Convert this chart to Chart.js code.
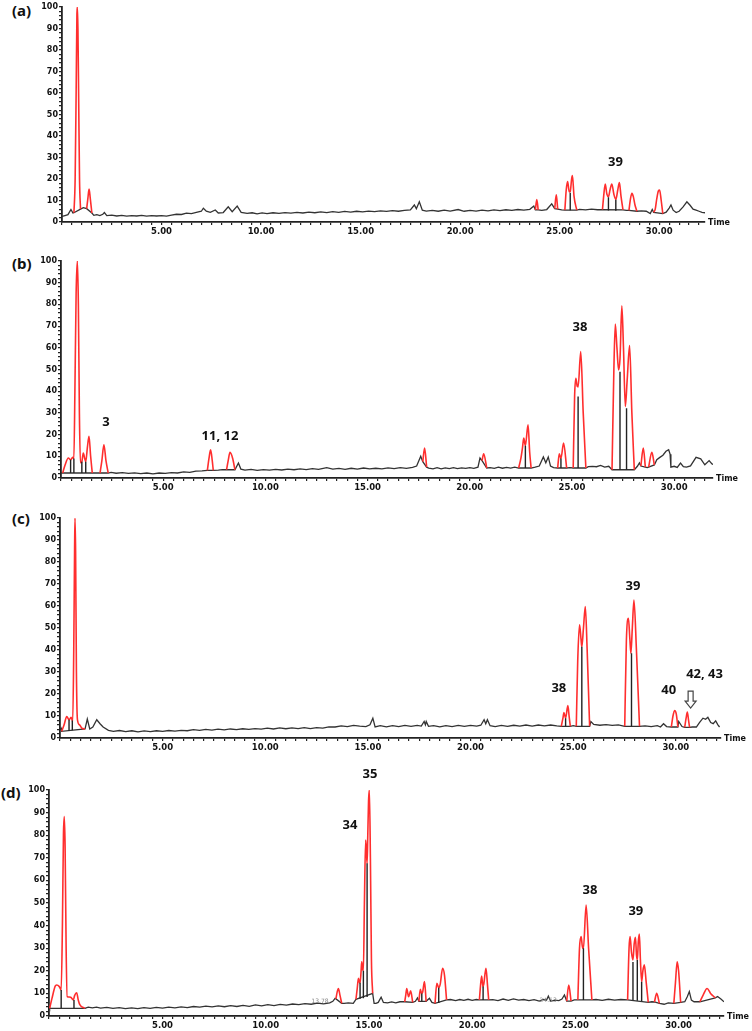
<!DOCTYPE html>
<html>
<head>
<meta charset="utf-8">
<script src="https://cdn.jsdelivr.net/npm/chart.js@4.4.1/dist/chart.umd.min.js"></script>
<style>
  html, body { margin: 0; padding: 0; background: #fff; }
  body { width: 752px; height: 1031px; position: relative; overflow: hidden; }
  .panel { position: absolute; left: 0; width: 752px; }
  .tag { position: absolute; font: 700 15px "Noto Sans", sans-serif; line-height: 15px; color: #111; }
</style>
</head>
<body>
<div class="tag" style="left:12px;top:3px">(a)</div>
<div class="tag" style="left:12px;top:256px">(b)</div>
<div class="tag" style="left:12px;top:511px">(c)</div>
<div class="tag" style="left:1px;top:785px">(d)</div>
<div class="panel" id="pa"><canvas id="ca"></canvas></div>
<div class="panel" id="pb"><canvas id="cb"></canvas></div>
<div class="panel" id="pc"><canvas id="cc"></canvas></div>
<div class="panel" id="pd"><canvas id="cd"></canvas></div>
<script>
// ---------- data: [time (min), relative abundance (%)] ----------

// (a)
const traceA = [[0,2.6],[0.15,3.0],[0.3,3.4],[0.45,5.8],[0.55,4.2],[0.6,4.3],[0.93,6.0],[1.07,6.7],[1.24,6.2],[1.5,4.2],[1.6,3.1],[1.75,3.4],[1.9,3.0],[2.05,3.6],[2.13,4.4],[2.25,3.0],[2.5,3.2],[2.75,2.8],[3.0,3.1],[3.25,2.7],[3.5,3.0],[3.75,2.8],[4.0,3.1],[4.25,2.7],[4.5,3.0],[4.75,2.8],[5.0,3.0],[5.25,2.7],[5.5,3.2],[5.75,3.6],[6.0,3.5],[6.25,4.1],[6.5,3.9],[6.75,4.5],[7.0,5.0],[7.1,6.4],[7.25,5.0],[7.45,4.5],[7.7,5.6],[7.85,4.2],[8.1,4.4],[8.35,7.1],[8.55,4.8],[8.8,7.4],[9.0,4.5],[9.3,4.0],[9.55,4.3],[9.8,3.8],[10.05,4.2],[10.3,3.9],[10.6,4.3],[10.9,4.0],[11.2,4.4],[11.5,4.1],[11.8,4.5],[12.1,4.2],[12.4,4.6],[12.7,4.3],[13.0,4.7],[13.3,4.4],[13.6,4.8],[13.9,4.5],[14.2,4.9],[14.5,4.6],[14.8,5.0],[15.1,4.7],[15.4,5.1],[15.7,4.8],[16.0,5.2],[16.3,4.9],[16.6,5.3],[16.9,5.0],[17.2,5.4],[17.5,5.6],[17.7,7.9],[17.8,6.2],[17.95,9.4],[18.1,5.5],[18.3,5.1],[18.6,5.4],[18.9,5.0],[19.2,5.5],[19.5,5.1],[19.9,5.8],[20.2,5.0],[20.5,5.4],[20.8,5.1],[21.1,5.5],[21.4,5.2],[21.7,5.6],[22.0,5.3],[22.3,5.7],[22.6,5.4],[22.9,5.8],[23.2,5.5],[23.5,5.9],[23.7,7.4],[23.78,5.6],[23.92,5.6],[24.1,5.4],[24.35,5.8],[24.6,8.4],[24.75,6.2],[24.9,6.0],[25.1,5.6],[25.26,5.5],[25.86,5.5],[26.0,5.9],[26.3,5.6],[26.6,6.0],[26.9,5.7],[27.15,5.8],[28.18,5.6],[28.35,5.4],[28.48,5.4],[28.88,5.0],[29.1,5.2],[29.35,5.0],[29.55,3.9],[29.65,5.8],[29.72,4.5],[30.18,3.9],[30.35,4.6],[30.5,6.5],[30.59,7.9],[30.7,5.5],[30.85,4.4],[31.0,5.0],[31.2,7.0],[31.39,9.4],[31.55,7.8],[31.7,6.0],[31.85,5.5],[32.0,5.0],[32.15,4.5],[32.3,4.3]];
const peaksA = [
  [[0.6,4.3],[0.66,20],[0.71,60],[0.75,97],[0.77,100],[0.8,90],[0.84,55],[0.88,20],[0.93,6.0]],
  [[1.24,6.2],[1.3,11],[1.36,15.3],[1.42,11],[1.5,4.2]],
  [[23.78,5.6],[23.85,10.5],[23.92,5.6]],
  [[24.75,6.2],[24.83,12.6],[24.9,6.0]],
  [[25.26,5.5],[25.33,15],[25.4,18.8],[25.48,14],[25.53,14.2],[25.6,20],[25.64,21.6],[25.72,12],[25.86,5.5]],
  [[27.15,5.8],[27.22,13],[27.29,17.7],[27.37,13],[27.45,11.8],[27.53,15],[27.62,17.7],[27.72,13],[27.82,10.5],[27.92,15],[28.0,18.3],[28.08,12],[28.18,5.6]],
  [[28.48,5.4],[28.56,11],[28.63,13.3],[28.7,11.8],[28.78,8],[28.88,5.0]],
  [[29.72,4.5],[29.8,6],[29.88,11],[29.96,14.5],[30.02,14.9],[30.1,10],[30.18,3.9]]
];
const dropsA = [[25.53,5.5,13.6],[27.45,5.4,11.5],[27.82,5.2,10.3]];
const notesA = [['39',27.8,27.6]];

// (b)
const traceB = [[0,2.3],[0.08,2.3],[1.53,2.3],[1.7,2.3],[1.91,2.3],[2.31,2.3],[2.45,2.6],[2.7,2.2],[3.0,2.5],[3.3,2.1],[3.6,2.4],[3.9,2.0],[4.2,2.3],[4.5,1.9],[4.8,2.3],[5.1,2.1],[5.4,2.5],[5.7,2.3],[6.0,2.8],[6.3,2.6],[6.6,3.2],[6.9,3.3],[7.16,3.5],[7.45,3.5],[7.7,3.6],[7.9,3.9],[8.1,3.8],[8.51,3.8],[8.68,6.9],[8.8,4.1],[9.0,3.6],[9.3,4.0],[9.6,3.5],[9.9,3.9],[10.2,3.6],[10.5,4.0],[10.8,3.7],[11.1,4.1],[11.4,3.8],[11.7,4.2],[12.0,3.9],[12.3,4.3],[12.6,4.0],[13.0,4.8],[13.3,4.1],[13.6,4.4],[13.9,4.0],[14.2,4.5],[14.5,4.1],[14.8,4.6],[15.1,4.2],[15.4,4.5],[15.7,4.2],[16.0,4.7],[16.3,4.3],[16.6,4.8],[16.9,4.4],[17.2,4.9],[17.4,5.5],[17.6,10],[17.7,7.5],[17.89,5.0],[17.99,4.6],[18.2,4.2],[18.4,4.8],[18.6,4.2],[18.8,4.7],[19.0,4.3],[19.2,4.8],[19.4,4.3],[19.6,4.7],[19.8,4.4],[20.0,4.8],[20.2,4.4],[20.4,5.0],[20.5,9.2],[20.6,8.0],[20.83,4.6],[21.0,4.8],[21.2,4.4],[21.4,5.0],[21.6,4.5],[21.8,4.9],[22.0,4.6],[22.2,5.0],[22.39,4.6],[23.0,4.6],[23.2,5.0],[23.4,5.5],[23.6,9.7],[23.72,7.0],[23.84,9.7],[23.95,5.5],[24.1,4.8],[24.3,4.6],[24.74,4.6],[24.9,4.8],[25.06,4.6],[25.68,4.6],[25.8,5.2],[26.0,5.4],[26.2,5.2],[26.4,5.8],[26.6,5.0],[26.8,5.4],[26.96,3.8],[28.05,3.8],[28.2,5.4],[28.3,7.0],[28.37,5.5],[28.59,5.0],[28.68,4.8],[28.75,5.0],[29.03,6.0],[29.15,8.4],[29.3,9.5],[29.45,10.5],[29.6,12.3],[29.73,13.0],[29.8,11.0],[29.84,5.0],[30.0,5.4],[30.15,4.9],[30.31,6.9],[30.45,5.2],[30.6,5.0],[30.8,5.6],[31.07,9.5],[31.3,8.8],[31.5,6.1],[31.71,8.0],[31.85,6.5],[31.96,6.1]];
const peaksB = [
  [[0.08,2.3],[0.2,6],[0.36,9.2],[0.47,8.4],[0.57,9.5],[0.63,9.0],[0.68,40],[0.74,85],[0.8,100],[0.85,80],[0.9,30],[0.95,7],[1.02,7.5],[1.09,11.5],[1.16,9],[1.21,7.5],[1.29,14],[1.37,19.2],[1.45,10],[1.53,2.3]],
  [[1.91,2.3],[2.0,8],[2.1,15.3],[2.2,8],[2.31,2.3]],
  [[7.16,3.5],[7.24,9],[7.32,13],[7.4,8],[7.45,3.5]],
  [[8.1,3.8],[8.18,8],[8.27,11.8],[8.4,9],[8.51,3.8]],
  [[17.7,7.5],[17.79,13.8],[17.89,5.0]],
  [[20.6,8.0],[20.68,11.2],[20.83,4.6]],
  [[22.39,4.6],[22.5,9],[22.58,14],[22.64,18.4],[22.72,14.9],[22.85,24.5],[22.93,12],[23.0,4.6]],
  [[24.3,4.6],[24.38,11.2],[24.46,9],[24.59,16.1],[24.74,4.6]],
  [[25.06,4.6],[25.13,38],[25.19,46],[25.26,42.2],[25.3,42],[25.43,58.3],[25.55,30],[25.68,4.6]],
  [[26.96,3.8],[27.05,50],[27.12,70.9],[27.2,60],[27.28,49.8],[27.35,55],[27.44,79.3],[27.52,60],[27.61,33],[27.7,45],[27.82,61],[27.93,30],[28.05,3.8]],
  [[28.37,5.5],[28.49,13.8],[28.59,5.0]],
  [[28.75,5.0],[28.91,11.8],[29.03,6.0]]
];
const dropsB = [[0.47,2.3,8.4],[0.63,2.3,9.0],[1.02,2.3,7.5],[1.21,2.3,7.5],[22.72,4.6,14.9],[24.46,4.6,9.0],[25.3,4.6,37.6],[27.35,3.8,49],[27.67,3.8,32.2]];
const notesB = [['3',2.2,25.8],['11, 12',7.78,19.4],['38',25.39,69.6]];

// (c)
const traceC = [[0,3.8],[0.05,4.5],[0.08,3.0],[1.22,4.1],[1.33,8.6],[1.45,4.1],[1.6,5.0],[1.79,8.3],[1.95,6.5],[2.1,5.0],[2.36,3.5],[2.6,3.0],[2.9,3.4],[3.2,2.9],[3.5,3.3],[3.8,2.8],[4.1,3.2],[4.4,2.9],[4.7,3.3],[5.0,3.0],[5.3,3.4],[5.6,3.1],[5.9,3.5],[6.2,3.3],[6.5,3.8],[6.8,3.5],[7.1,3.9],[7.4,3.6],[7.7,4.0],[8.0,3.7],[8.3,4.1],[8.6,3.8],[8.9,4.2],[9.2,3.9],[9.5,4.3],[9.8,4.0],[10.1,4.5],[10.4,4.1],[10.7,4.6],[11.0,4.2],[11.3,4.6],[11.6,4.3],[11.9,4.7],[12.2,4.3],[12.5,4.7],[12.8,4.5],[13.1,5.1],[13.4,5.0],[13.7,5.5],[14.0,5.2],[14.3,5.7],[14.6,5.4],[14.9,5.2],[15.1,6.0],[15.24,9.0],[15.35,5.0],[15.6,5.6],[15.9,5.1],[16.2,5.6],[16.5,5.2],[16.8,5.7],[17.1,5.3],[17.4,5.7],[17.6,5.4],[17.74,7.5],[17.8,6.0],[17.84,7.5],[17.95,5.3],[18.2,5.6],[18.5,5.1],[18.8,5.6],[19.1,5.2],[19.4,5.7],[19.7,5.3],[20.0,5.7],[20.3,5.4],[20.5,5.8],[20.66,8.3],[20.74,6.5],[20.82,8.3],[20.95,5.6],[21.2,5.2],[21.5,5.7],[21.8,5.3],[22.1,5.8],[22.4,5.4],[22.7,5.9],[23.0,5.4],[23.3,5.9],[23.6,5.5],[23.9,5.9],[24.2,5.5],[24.42,5.3],[24.86,5.3],[25.0,5.6],[25.15,5.3],[25.8,5.3],[25.86,7.5],[26.0,6.2],[26.3,5.8],[26.6,6.1],[26.9,5.7],[27.2,6.0],[27.51,5.3],[28.23,5.3],[28.5,5.5],[28.8,5.2],[29.1,5.6],[29.25,5.0],[29.4,6.5],[29.55,5.2],[29.78,5.0],[30.1,5.0],[30.14,7.5],[30.3,5.2],[30.43,4.8],[30.67,4.8],[30.8,5.0],[31.0,5.0],[31.15,7.0],[31.32,9.0],[31.45,8.5],[31.56,9.4],[31.7,7.0],[31.82,6.5],[31.94,7.8],[32.05,6.0],[32.13,5.0]];
const peaksC = [
  [[0.08,3.0],[0.2,6],[0.33,9.8],[0.44,8.3],[0.54,9.4],[0.62,7.5],[0.67,40],[0.71,85],[0.73,100],[0.76,85],[0.8,30],[0.85,8.3],[0.95,6],[1.06,4.5],[1.22,4.1]],
  [[24.42,5.3],[24.5,9],[24.55,11.6],[24.63,9.0],[24.74,14.7],[24.8,10],[24.86,5.3]],
  [[25.15,5.3],[25.22,35],[25.31,51.4],[25.38,45],[25.42,41.5],[25.5,50],[25.59,59.7],[25.68,40],[25.8,5.3]],
  [[27.51,5.3],[27.59,44],[27.69,54.4],[27.76,45],[27.81,38.5],[27.88,50],[27.96,62.7],[28.08,40],[28.23,5.3]],
  [[29.78,5.0],[29.86,10],[29.94,12.5],[30.02,11],[30.1,5.0]],
  [[30.43,4.8],[30.5,9],[30.56,11.8],[30.62,8],[30.67,4.8]]
];
const dropsC = [[0.44,3.2,8.3],[0.6,3.5,8.0],[24.63,5.3,9.0],[25.42,5.3,41.5],[27.84,5.3,38.5]];
const notesC = [['38',24.3,22.6],['39',27.91,68.8],['40',29.65,21.8],['42, 43',31.4,29.1]];
const arrowC = [30.72, 21.3, 13.6];

// (d)
const traceD = [[-0.5,4.1],[-0.47,3.4],[1.24,3.4],[1.4,3.9],[1.6,3.6],[1.8,3.9],[2.0,3.5],[2.3,3.8],[2.6,3.4],[2.9,3.7],[3.2,3.3],[3.5,3.6],[3.8,3.3],[4.1,3.7],[4.4,3.4],[4.7,3.8],[5.0,3.5],[5.3,3.9],[5.6,3.6],[5.9,4.0],[6.2,3.7],[6.5,4.2],[6.8,3.9],[7.1,4.4],[7.4,4.0],[7.7,4.5],[8.0,4.1],[8.3,4.6],[8.6,4.2],[8.9,4.7],[9.2,4.3],[9.5,4.9],[9.8,4.5],[10.1,5.0],[10.4,4.6],[10.7,5.1],[11.0,4.8],[11.3,5.3],[11.6,5.0],[11.9,5.5],[12.2,5.2],[12.5,5.7],[12.8,5.4],[13.1,5.8],[13.25,6.5],[13.36,7.8],[13.4,7.6],[13.68,5.6],[13.8,5.6],[14.0,5.8],[14.24,5.6],[14.37,7.4],[15.18,10.0],[15.25,5.6],[15.34,5.6],[15.45,6.0],[15.59,8.3],[15.7,6.0],[15.9,5.8],[16.1,6.2],[16.3,5.8],[16.5,6.3],[16.73,6.3],[17.12,6.0],[17.25,6.5],[17.35,8.0],[17.42,6.5],[17.77,6.5],[17.93,7.8],[18.05,6.0],[18.2,5.6],[18.76,7.1],[18.95,7.3],[19.2,6.8],[19.4,7.3],[19.6,6.9],[19.8,7.4],[20.0,6.9],[20.2,7.3],[20.35,7.1],[20.8,7.1],[21.0,7.2],[21.25,6.8],[21.5,7.5],[21.75,6.9],[22.0,7.6],[22.25,7.0],[22.5,7.3],[22.75,6.8],[23.0,7.2],[23.25,6.6],[23.45,7.3],[23.6,7.0],[23.69,8.8],[23.8,6.5],[24.0,7.0],[24.2,6.8],[24.35,7.5],[24.47,9.3],[24.58,6.6],[24.79,6.6],[24.95,7.1],[25.12,7.1],[25.8,7.1],[26.0,7.3],[26.3,6.9],[26.6,7.4],[26.9,7.0],[27.2,7.3],[27.53,7.1],[28.53,6.0],[28.7,6.3],[28.83,6.2],[29.07,5.6],[29.3,5.2],[29.5,5.8],[29.77,5.6],[30.1,6.0],[30.3,6.3],[30.42,8.5],[30.52,10.8],[30.62,7.0],[30.75,6.3],[31.03,6.3],[31.78,8.0],[31.89,8.6],[32.05,7.5],[32.2,6.3]];
const peaksD = [
  [[-0.47,3.4],[-0.35,8],[-0.2,13.2],[-0.13,13.7],[0.0,13.0],[0.09,11.5],[0.15,40],[0.2,80],[0.24,88.2],[0.28,75],[0.33,30],[0.38,8.6],[0.48,8.4],[0.55,8.3],[0.68,7.1],[0.74,9],[0.84,10.3],[0.92,7],[1.0,4.9],[1.24,3.4]],
  [[13.4,7.6],[13.47,11],[13.52,12.2],[13.6,9],[13.68,5.6]],
  [[14.37,7.4],[14.43,12],[14.49,16.7],[14.54,15],[14.57,14.7],[14.62,20],[14.65,24],[14.69,21],[14.73,20],[14.78,50],[14.84,77.9],[14.88,72],[14.91,67.6],[14.94,78.6],[14.98,95],[15.02,100],[15.07,70],[15.12,25],[15.18,10]],
  [[16.73,6.3],[16.78,9],[16.83,12.2],[16.92,8.5],[17.02,11.1],[17.12,6.0]],
  [[17.42,6.5],[17.49,11.8],[17.55,10],[17.6,10.5],[17.69,15.2],[17.77,6.5]],
  [[18.2,5.6],[18.29,14.5],[18.38,12.5],[18.45,14],[18.57,21.1],[18.66,18],[18.76,7.1]],
  [[20.35,7.1],[20.41,14],[20.46,17.7],[20.52,13],[20.56,14],[20.67,21.1],[20.74,14],[20.8,7.1]],
  [[24.58,6.6],[24.68,13.7],[24.79,6.6]],
  [[25.12,7.1],[25.2,30],[25.28,35.1],[25.35,30],[25.39,30],[25.52,49.1],[25.64,30],[25.8,7.1]],
  [[27.53,7.1],[27.6,30],[27.65,35.1],[27.72,28],[27.79,24.8],[27.85,32],[27.91,34.8],[27.96,27],[28.0,24.8],[28.05,33],[28.1,36.3],[28.15,25],[28.21,15.2],[28.27,20],[28.34,22.6],[28.43,15],[28.53,6.0]],
  [[28.83,6.2],[28.94,10],[29.07,5.6]],
  [[29.77,5.6],[29.85,15],[29.93,24],[30.0,20],[30.1,6.0]],
  [[31.03,6.3],[31.2,9.5],[31.38,12.2],[31.55,10],[31.78,8.0]]
];
const dropsD = [[0.09,3.4,11.5],[0.71,3.4,7.1],[14.57,7.6,14.7],[14.73,7.9,20],[14.91,8.4,67.6],[17.56,6.5,10],[18.38,5.8,12.5],[20.53,7.1,13],[25.39,7.1,30],[27.79,7.0,23.9],[28.0,6.8,24.8],[28.21,6.6,15.2]];
const notesD = [['35',15.05,107],['34',14.08,84.5],['38',25.71,55.7],['39',27.93,46.2]];
const faintD = [['13.78',12.63,6.3],['24.53',23.68,7.0]];

// ---------- helpers ----------
function peakData(peaks) {
  const out = [];
  peaks.forEach(p => {
    p.forEach(pt => out.push(pt));
    out.push([p[p.length - 1][0], null]); // break between peaks
  });
  return out;
}
function dropData(drops) {
  const out = [];
  drops.forEach(([t, lo, hi]) => out.push([t, lo], [t, hi], [t, null]));
  return out;
}

Chart.defaults.font.family = '"DejaVu Sans", sans-serif';
Chart.defaults.color = '#111';

// labels, the "Time" caption and the hollow arrow
const notesPlugin = {
  id: 'notes',
  afterDraw(chart, args, opts) {
    const { ctx, chartArea } = chart;
    const x = chart.scales.x, y = chart.scales.y;
    ctx.save();
    ctx.fillStyle = '#111';
    ctx.textAlign = 'center';
    ctx.textBaseline = 'middle';
    ctx.font = '700 13px "Noto Sans", sans-serif';
    (opts.items || []).forEach(([txt, t, v]) => {
      ctx.fillText(txt, x.getPixelForValue(t), y.getPixelForValue(v));
    });
    ctx.fillStyle = '#888';
    ctx.font = '6px "DejaVu Sans", sans-serif';
    (opts.faint || []).forEach(([txt, t, v]) => {
      ctx.fillText(txt, x.getPixelForValue(t), y.getPixelForValue(v));
    });
    ctx.fillStyle = '#111';
    ctx.font = '700 8px "DejaVu Sans", sans-serif';
    ctx.textAlign = 'left';
    ctx.fillText('Time', chartArea.right + 3, chartArea.bottom + 1);
    if (opts.arrow) {
      const [t, top, tip] = opts.arrow;
      const cx = x.getPixelForValue(t), y0 = y.getPixelForValue(top), y1 = y.getPixelForValue(tip);
      ctx.beginPath();
      ctx.moveTo(cx - 2.5, y0); ctx.lineTo(cx + 2.5, y0); ctx.lineTo(cx + 2.5, y1 - 7);
      ctx.lineTo(cx + 5.5, y1 - 7); ctx.lineTo(cx, y1); ctx.lineTo(cx - 5.5, y1 - 7);
      ctx.lineTo(cx - 2.5, y1 - 7); ctx.closePath();
      ctx.strokeStyle = '#444'; ctx.lineWidth = 1.2; ctx.stroke();
    }
    ctx.restore();
  }
};

function makePanel(id, box, xmin, xmax, trace, peaks, drops, notes, extra) {
  const wrap = document.getElementById('p' + id);
  const canvasTop = box.top - box.padTop;
  wrap.style.top = canvasTop + 'px';
  wrap.style.height = (box.bottom - canvasTop + box.xh) + 'px';
  return new Chart(document.getElementById('c' + id), {
    type: 'line',
    data: {
      datasets: [
        { data: dropData(drops), borderColor: '#222', borderWidth: 1.4, pointRadius: 0, spanGaps: false, order: 0 },
        { data: peakData(peaks), borderColor: '#ff2e2e', borderWidth: 1.6, pointRadius: 0, spanGaps: false,
          cubicInterpolationMode: 'monotone', order: 1 },
        { data: trace, borderColor: '#333', borderWidth: 1.3, pointRadius: 0, tension: 0, order: 2 }
      ]
    },
    options: {
      responsive: true,
      maintainAspectRatio: false,
      animation: false,
      events: [],
      layout: { padding: { top: box.padTop, left: 0, right: 752 - box.right, bottom: 0 } },
      plugins: {
        legend: { display: false },
        tooltip: { enabled: false },
        notes: Object.assign({ items: notes }, extra || {})
      },
      scales: {
        x: {
          type: 'linear', min: xmin, max: xmax,
          afterFit: s => { s.height = box.xh; },
          border: { display: true, color: '#222', width: 1.8 },
          grid: { drawOnChartArea: false, drawTicks: true, tickLength: 3, color: '#222', lineWidth: 1.2 },
          ticks: {
            stepSize: 0.5, autoSkip: false, maxRotation: 0, includeBounds: false, padding: 2,
            font: { size: 8.5, weight: 'bold' },
            callback: v => (v > 0 && Math.abs(v % 5) < 1e-6) ? v.toFixed(2) : ''
          }
        },
        y: {
          min: 0, max: 100,
          afterFit: s => { s.width = box.left; },
          border: { display: true, color: '#222', width: 1.8 },
          grid: { drawOnChartArea: false, drawTicks: true, tickLength: 3, color: '#222', lineWidth: 1.2 },
          ticks: {
            stepSize: 2, autoSkip: false, padding: 1,
            font: { size: 8, weight: 'bold' },
            callback: v => (v % 10 === 0) ? String(v) : ''
          }
        }
      }
    },
    plugins: [notesPlugin]
  });
}

makePanel('a', { left: 62, right: 705, top: 7, bottom: 222, padTop: 7, xh: 26 }, 0, 32.3, traceA, peaksA, dropsA, notesA);
makePanel('b', { left: 61, right: 713, top: 261, bottom: 478, padTop: 21, xh: 26 }, 0, 31.9, traceB, peaksB, dropsB, notesB);
makePanel('c', { left: 60, right: 721, top: 518, bottom: 738, padTop: 21, xh: 26 }, 0, 32.2, traceC, peaksC, dropsC, notesC, { arrow: arrowC });
makePanel('d', { left: 49, right: 724, top: 790, bottom: 1016, padTop: 28, xh: 15 }, -0.5, 32.2, traceD, peaksD, dropsD, notesD, { faint: faintD });
</script>
</body>
</html>
